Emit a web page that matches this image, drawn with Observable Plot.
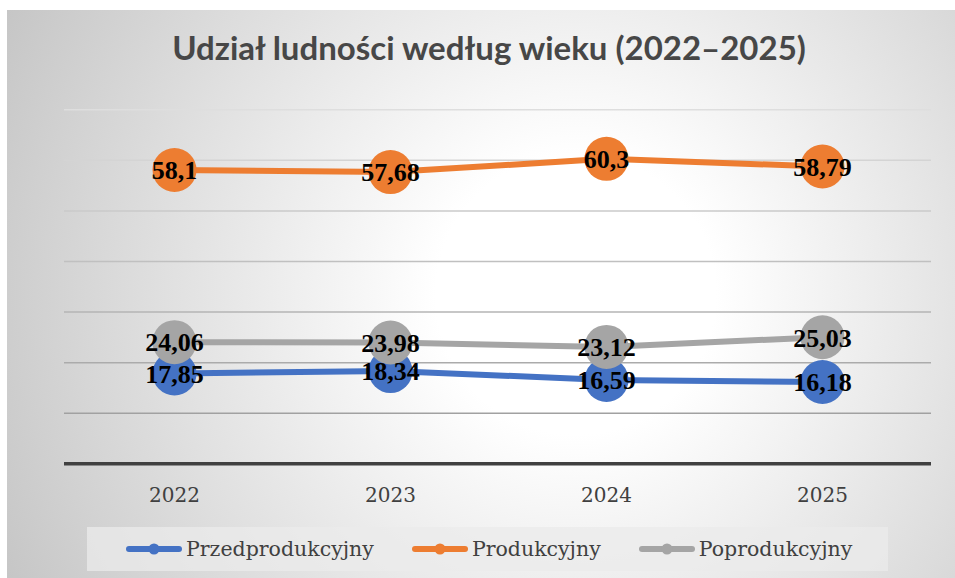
<!DOCTYPE html>
<html>
<head>
<meta charset="utf-8">
<script src="https://cdn.jsdelivr.net/npm/d3@7"></script>
<script src="https://cdn.jsdelivr.net/npm/@observablehq/plot@0.6"></script>
<style>
  html, body { margin: 0; padding: 0; background: #ffffff; }
  #page { position: relative; width: 955px; height: 578px; overflow: hidden; }
  #bg { position: absolute; left: 7px; top: 9.5px; width: 948px; height: 569px;
        background: radial-gradient(circle farthest-corner at 60% 50%, #ffffff 0%, #ffffff 22%, #c6c6c6 100%); }
  #title { position: absolute; left: 0; width: 978px; top: 27px; text-align: center;
           font-family: Lato, "Open Sans", sans-serif; font-weight: bold; font-size: 33px; color: #474747; }
  #chart { position: absolute; left: 0; top: 0; }
  #legend { position: absolute; left: 87px; top: 527px; width: 801px; height: 44px;
            background: rgba(235,235,235,0.75); display: flex; align-items: center;
            padding-left: 39px; box-sizing: border-box; gap: 38px;
            font-family: "DejaVu Serif", serif; font-size: 20.5px; color: #404040; }
  .item { display: flex; align-items: center; gap: 4px; white-space: nowrap; }
</style>
</head>
<body>
<div id="page">
  <div id="bg"></div>
  <div id="title"></div>
  <div id="chart"></div>
  <div id="legend"></div>
</div>
<script>
const title = "Udział ludności według wieku (2022–2025)";
const years = ["2022", "2023", "2024", "2025"];
const seriesNames = ["Przedprodukcyjny", "Produkcyjny", "Poprodukcyjny"];
const przedprodukcyjny = [17.85, 18.34, 16.59, 16.18];
const produkcyjny = [58.1, 57.68, 60.3, 58.79];
const poprodukcyjny = [24.06, 23.98, 23.12, 25.03];
const seriesColors = ["#4472C4", "#ED7D31", "#A5A5A5"];
const yTicks = [0, 10, 20, 30, 40, 50, 60, 70];

document.getElementById("title").textContent = title;

const seriesValues = [przedprodukcyjny, produkcyjny, poprodukcyjny];
const rows = [];
seriesNames.forEach((s, si) => {
  years.forEach((yr, i) => rows.push({series: s, year: yr, value: seriesValues[si][i], color: seriesColors[si]}));
});

const gridColor = d3.interpolateRgb("#979797", "#dedede");
const marks = [
  Plot.ruleY(yTicks.filter(v => v > 0), {stroke: d => gridColor(d / 70), strokeWidth: 1.5}),
  Plot.ruleY([0], {stroke: "#404040", strokeWidth: 3.5}),
  Plot.axisX({tickSize: 0, tickPadding: 24, fontSize: 20, fontFamily: "DejaVu Serif", fill: "#404040", label: null})
];
seriesNames.forEach((s, si) => {
  const data = rows.filter(r => r.series === s);
  marks.push(Plot.line(data, {x: "year", y: "value", stroke: seriesColors[si], strokeWidth: 6, curve: "linear"}));
  marks.push(Plot.dot(data, {x: "year", y: "value", r: 22, fill: seriesColors[si], stroke: "none"}));
});
marks.push(Plot.text(rows, {x: "year", y: "value", text: d => String(d.value).replace(".", ","),
  fontSize: 26, fontWeight: "bold", fontFamily: "Liberation Serif", fill: "#000000", dy: 1}));

const chart = Plot.plot({
  width: 955,
  height: 520,
  marginTop: 109.3,
  marginBottom: 56.7,
  marginLeft: 64,
  marginRight: 24,
  style: {background: "transparent", overflow: "visible"},
  x: {type: "point", domain: years, padding: 0.5, axis: null},
  y: {domain: [0, 70], axis: null},
  marks
});
document.getElementById("chart").appendChild(chart);

const legend = document.getElementById("legend");
seriesNames.forEach((s, si) => {
  const item = document.createElement("div");
  item.className = "item";
  item.innerHTML = `<svg width="56" height="14"><line x1="3" y1="7" x2="53" y2="7" stroke="${seriesColors[si]}" stroke-width="6" stroke-linecap="round"/><circle cx="28" cy="7" r="5.5" fill="${seriesColors[si]}"/></svg>`;
  const span = document.createElement("span");
  span.textContent = s;
  item.appendChild(span);
  legend.appendChild(item);
});
</script>
</body>
</html>
